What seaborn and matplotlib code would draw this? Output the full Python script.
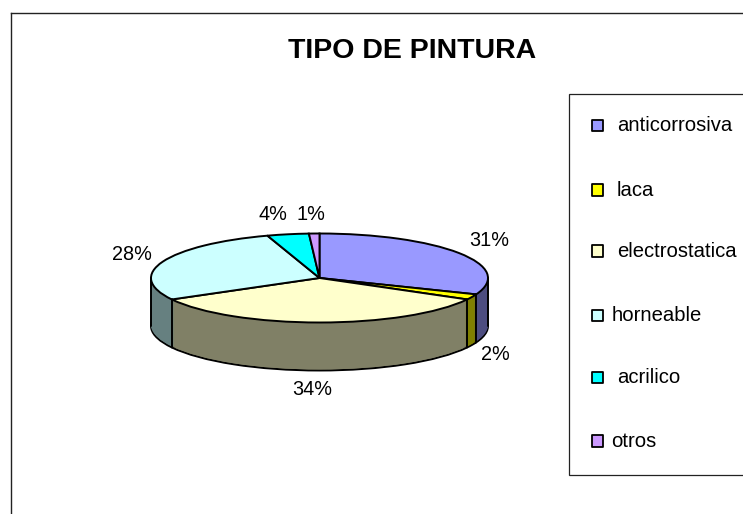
"""Tipo de pintura: Excel style 3D pie, built from stacked flat pies."""

import matplotlib
matplotlib.use("Agg")
import matplotlib.pyplot as plt
from matplotlib.patches import Rectangle
import numpy as np
import seaborn as sns

W, H = 743, 514
DEPTH = 48  # pixels of pie wall
RX, RY = 168.5, 44.5
LW = 1.4

tipos = ["anticorrosiva", "laca", "electrostatica", "horneable", "acrilico", "otros"]
valores = [31, 2, 34, 28, 4, 1]
colores = ["#9999FF", "#FFFF00", "#FFFFCC", "#CCFFFF", "#00FFFF", "#CC99FF"]
sombras = ["#4D4D80", "#808000", "#808066", "#668080", "#008080", "#664D80"]

# label centres in pixels, same order as valores
label_x = [489.5, 495, 312.5, 132, 272.5, 311]
label_y = [241, 354.5, 390, 255, 215, 215]
# legend layout in pixels
marker_y = [125.7, 190, 251, 315.7, 377.7, 441]
legend_text_x = [617, 617, 617, 611.5, 617, 611.5]
legend_base_y = [130.7, 195.7, 257, 321, 383, 447]

sns.set_style("white")
plt.rcParams["font.family"] = ["Liberation Sans", "DejaVu Sans"]
plt.rcParams["text.color"] = "black"

fig = plt.figure(figsize=(W / 100, H / 100), dpi=100)

# background axes in image pixels: frame, title, legend
bg = fig.add_axes([11 / W, 0, (W - 11) / W, (H - 13) / H])
for side in ["right", "bottom"]:
    bg.spines[side].set_visible(False)
for side in ["left", "top"]:
    bg.spines[side].set_color("#222222")
    bg.spines[side].set_linewidth(1.0)
bg.add_patch(Rectangle((569, 94), 300, 381.5, fc="white", ec="#222222", lw=0.9))
sns.scatterplot(x=[597.5] * len(tipos), y=marker_y, hue=tipos, palette=colores,
                marker="s", s=66, edgecolor="black", linewidth=1.3, legend=False, ax=bg)
bg.set_xlim(11, W)
bg.set_ylim(H, 13)
bg.set_xticks([])
bg.set_yticks([])

bg.text(412, 58, "TIPO DE PINTURA", fontsize=20.5, fontweight="bold", ha="center", va="baseline")
for tipo, x, y in zip(tipos, legend_text_x, legend_base_y):
    bg.text(x, y, tipo, fontsize=14.6, ha="left", va="baseline", clip_on=False)
for v, x, y in zip(valores, label_x, label_y):
    bg.text(x, y, f"{v}%", fontsize=14.3, ha="center", va="center")

# pie axes: one data unit is one radius on each axis
pie_ax = fig.add_axes([(319.5 - RX) / W, 1 - (278 + RY) / H, 2 * RX / W, 2 * RY / H])
pie_ax.patch.set_alpha(0)

# walls first, bottom layer up, so the front rim shows below the top face
for k in range(DEPTH, 0, -1):
    edge = "black" if k == DEPTH else "none"
    pie_ax.pie(valores, colors=sombras, startangle=90, counterclock=False, radius=1,
               center=(0, -k / RY),
               wedgeprops={"edgecolor": edge, "linewidth": LW, "clip_on": False})

top, _ = pie_ax.pie(valores, colors=colores, startangle=90, counterclock=False, radius=1,
                    center=(0, 0),
                    wedgeprops={"edgecolor": "black", "linewidth": LW, "clip_on": False})

# vertical edges where slices meet on the visible front, plus the silhouette
for w in top:
    a = np.deg2rad(w.theta1)
    if np.sin(a) < 0:
        pie_ax.plot([np.cos(a)] * 2, [np.sin(a), np.sin(a) - DEPTH / RY], color="black",
                    lw=LW, clip_on=False)
for sx in (-1, 1):
    pie_ax.plot([sx, sx], [0, -DEPTH / RY], color="black", lw=LW, clip_on=False)

pie_ax.set_aspect("auto")
pie_ax.set_xlim(-1, 1)
pie_ax.set_ylim(-1, 1)

fig.savefig("out.png", dpi=100)
